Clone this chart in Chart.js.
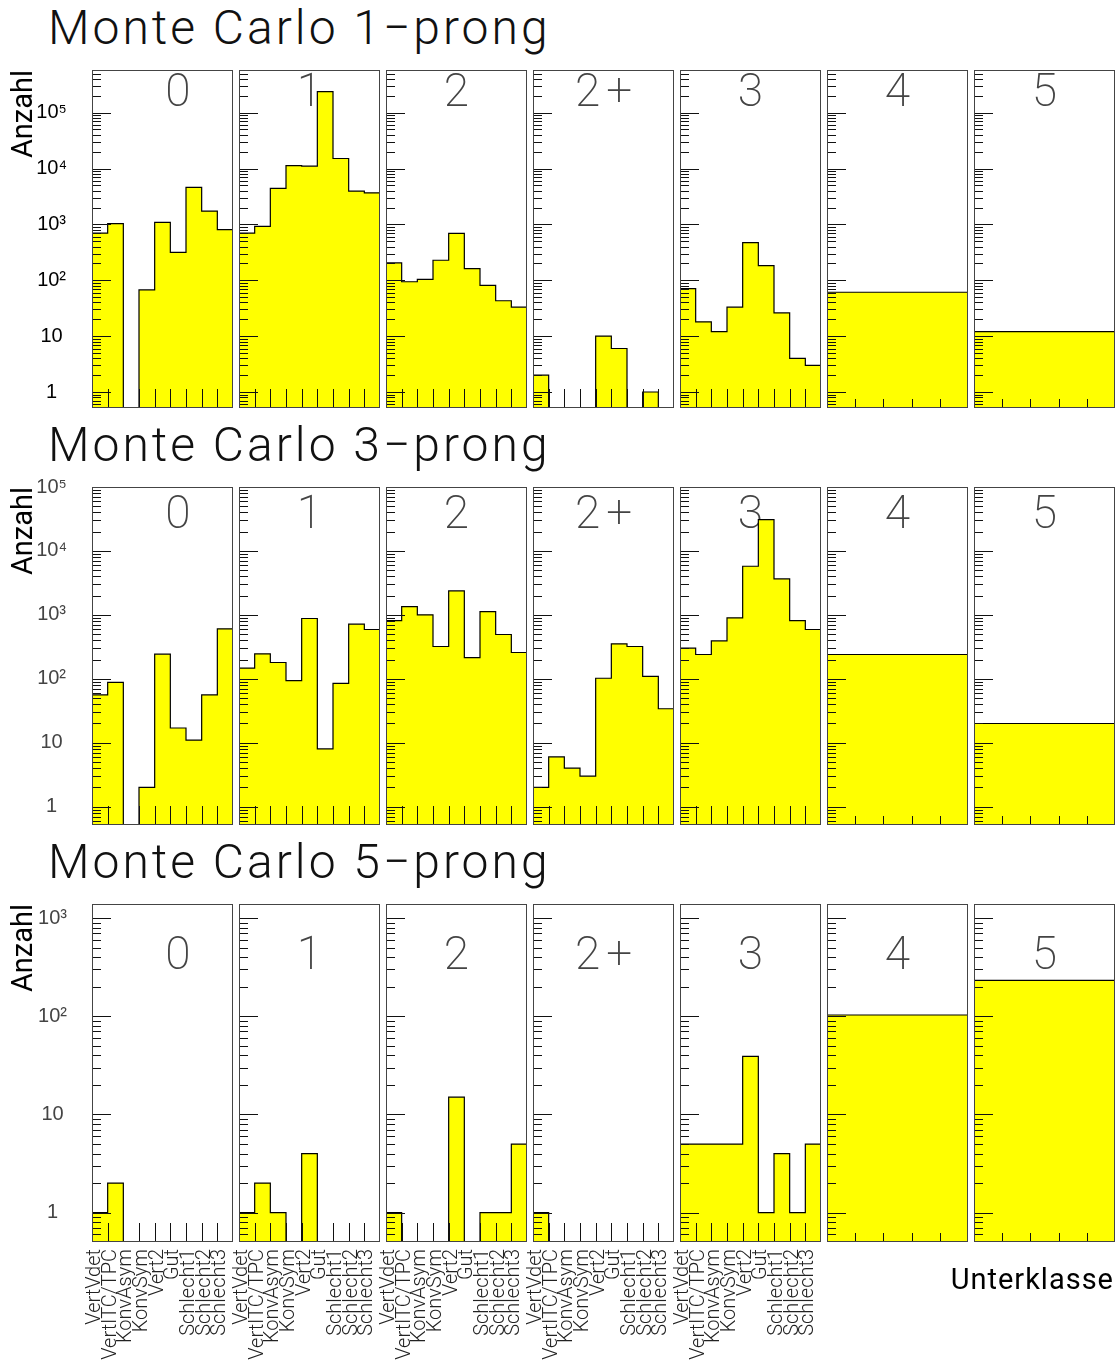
<!DOCTYPE html>
<html>
<head>
<meta charset="utf-8">
<script src="https://cdn.jsdelivr.net/npm/chart.js@4.4.1/dist/chart.umd.min.js"></script>
<style>
  body { margin: 0; background: #fff; width: 1118px; height: 1366px; position: relative; overflow: hidden; }
  canvas { position: absolute; }
  .title { position: absolute; left: 48px; font: 300 48px Roboto, sans-serif; letter-spacing: 3px; line-height: 48px; color: #111; white-space: nowrap; }
  .xtitle { position: absolute; right: 4px; top: 1264px; font: 29px Roboto, sans-serif; letter-spacing: 1px; line-height: 30px; color: #000; }
</style>
</head>
<body>
<script>
// Unterklassen (bins) of the classes 0..3; classes 4 and 5 are single bins
const categories = ['VertVdet', 'VertITC/TPC', 'KonvAsym', 'KonvSym', 'Vert2', 'Gut', 'Schlecht1', 'Schlecht2', 'Schlecht3'];
const classes = ['0', '1', '2', '2+', '3', '4', '5'];
const prongs = ['1', '3', '5'];

// Monte Carlo counts per class, 1-prong sample
const mc1prong = [
  [700, 1030, 0, 67, 1090, 316, 4590, 1730, 804],
  [700, 921, 4400, 11300, 11000, 237000, 15100, 3940, 3680],
  [204, 94, 104, 228, 691, 162, 81, 43, 33],
  [2, 0, 0, 0, 10, 6, 0, 1, 0],
  [71, 18, 12, 33, 471, 183, 26, 4, 3],
  [61],
  [12]
];

// 3-prong sample
const mc3prong = [
  [56, 88, 0, 2, 243, 17, 11, 56, 604],
  [147, 246, 180, 94, 877, 8, 85, 715, 590],
  [815, 1350, 1000, 320, 2370, 215, 1127, 493, 258],
  [2, 6, 4, 3, 102, 352, 320, 109, 34],
  [301, 240, 392, 898, 5760, 30900, 3650, 815, 590],
  [240],
  [20]
];

// 5-prong sample
const mc5prong = [
  [1, 2, 0, 0, 0, 0, 0, 0, 0],
  [1, 2, 1, 0, 4, 0, 0, 0, 0],
  [1, 0, 0, 0, 15, 0, 1, 1, 5],
  [1, 0, 0, 0, 0, 0, 0, 0, 0],
  [5, 5, 5, 5, 39, 1, 4, 1, 5],
  [103],
  [232]
];

const samples = [mc1prong, mc3prong, mc5prong];
const yRanges = [[0.517, 5.8e5], [0.517, 1e5], [0.503, 1390]];
const tickValues = [1, 10, 100, 1000, 10000, 100000];
const tickLabels = ['1', '10', '10²', '10³', '10⁴', '10⁵'];

// page layout
const PANEL_LEFT = 92, PANEL_STEP = 147, PANEL_W = 141, PANEL_H = 338;
const ROW_TOP = [70, 487, 904];
const LABEL_DY = [24, 29, 53];
const TITLE_TOP = [4, 421, 838];
const PAGE_H = 1366;
const PAD = 14;

// frame, log ticks and class number in ROOT style
const rootFrame = {
  id: 'rootFrame',
  beforeDatasetsDraw(chart, args, opts) {
    const { ctx, chartArea: a } = chart;
    ctx.save();
    ctx.font = '200 46px Roboto, sans-serif';
    ctx.letterSpacing = '6px';
    ctx.fillStyle = '#444';
    ctx.textAlign = 'center';
    ctx.textBaseline = 'middle';
    ctx.fillText(opts.label, a.left + opts.labelDx + 3, a.top + opts.labelDy);
    ctx.restore();
  },
  afterDatasetsDraw(chart, args, opts) {
    const { ctx, chartArea: a, scales: { x, y } } = chart;
    ctx.save();
    ctx.lineWidth = 1;
    ctx.strokeStyle = '#111';
    ctx.beginPath();
    const lo = Math.floor(Math.log10(y.min)), hi = Math.ceil(Math.log10(y.max));
    for (let e = lo; e <= hi; e++) {
      for (let k = 1; k <= 9; k++) {
        const v = k * Math.pow(10, e);
        if (v < y.min || v > y.max) continue;
        const py = Math.round(y.getPixelForValue(v)) + 0.5;
        ctx.moveTo(a.left, py);
        ctx.lineTo(a.left + (k === 1 ? 19 : 9), py);
      }
    }
    const n = opts.bins;
    const edges = n > 1 ? Array.from({ length: n - 1 }, (_, i) => i + 1) : [0.2, 0.4, 0.6, 0.8];
    const tl = n > 1 ? 19 : 9;
    edges.forEach(v => {
      const px = Math.round(x.getPixelForValue(v)) + 0.5;
      ctx.moveTo(px, a.bottom);
      ctx.lineTo(px, a.bottom - tl);
    });
    ctx.stroke();
    ctx.strokeStyle = '#444';
    ctx.strokeRect(a.left + 0.5, a.top + 0.5, a.right - a.left - 1, a.bottom - a.top - 1);
    ctx.restore();
  }
};

function makePanel(r, c) {
  const counts = samples[r][c];
  const n = counts.length;
  const [yMin, yMax] = yRanges[r];
  const firstCol = c === 0;
  const labelled = r === samples.length - 1 && n > 1;
  const left = PANEL_LEFT + c * PANEL_STEP, top = ROW_TOP[r];
  const padL = firstCol ? 2 : PAD;
  const axisW = firstCol ? left - padL : 0;
  const axisH = labelled ? PAGE_H - top - PANEL_H : 0;
  const padB = labelled ? 0 : PAD;

  const canvas = document.createElement('canvas');
  canvas.width = padL + axisW + PANEL_W + PAD;
  canvas.height = PAD + PANEL_H + axisH + padB;
  canvas.style.left = (left - axisW - padL) + 'px';
  canvas.style.top = (top - PAD) + 'px';
  document.body.appendChild(canvas);

  // histogram contour: one point per bin edge, empty bins sit on the axis floor
  const points = counts.map((v, i) => ({ x: i, y: v > 0 ? v : yMin }));
  points.push({ x: n, y: points[n - 1].y });

  new Chart(canvas, {
    type: 'line',
    data: {
      datasets: [{
        data: points,
        stepped: 'before',
        fill: 'start',
        backgroundColor: '#ffff00',
        borderColor: '#000',
        borderWidth: 1.2,
        pointRadius: 0
      }]
    },
    options: {
      responsive: false,
      animation: false,
      events: [],
      layout: { padding: { left: padL, top: PAD, right: PAD, bottom: padB } },
      plugins: {
        legend: { display: false },
        tooltip: { enabled: false },
        rootFrame: { label: classes[c], labelDx: c === 0 ? 86 : PANEL_W / 2, labelDy: LABEL_DY[r], bins: n }
      },
      scales: {
        x: {
          type: 'linear',
          min: 0,
          max: n,
          display: labelled,
          afterBuildTicks: s => { s.ticks = categories.map((name, i) => ({ value: i + 0.5 })); },
          afterFit: s => { s.height = axisH; s.paddingLeft = 0; s.paddingRight = 0; },
          grid: { display: false, drawTicks: false },
          border: { display: false },
          ticks: {
            autoSkip: false,
            minRotation: 90,
            maxRotation: 90,
            padding: 7,
            labelOffset: -5,
            color: '#222',
            font: { family: 'Roboto', size: 20, weight: 300 },
            callback: (v, i) => categories[i]
          }
        },
        y: {
          type: 'logarithmic',
          min: yMin,
          max: yMax,
          display: firstCol,
          afterBuildTicks: s => { s.ticks = tickValues.filter(v => v <= s.max).map(v => ({ value: v })); },
          afterFit: s => { s.width = axisW; s.paddingTop = 0; s.paddingBottom = 0; },
          grid: { display: false, drawTicks: false },
          border: { display: false },
          ticks: {
            autoSkip: false,
            crossAlign: 'center',
            padding: 25,
            color: r === 0 ? '#000' : '#444',
            font: { family: "'Liberation Sans', 'DejaVu Sans', sans-serif", size: 20, weight: r === 0 ? 'normal' : 300 },
            callback: v => tickLabels[tickValues.indexOf(v)]
          },
          title: {
            display: true,
            text: 'Anzahl',
            align: 'end',
            padding: { top: 5, bottom: 0 },
            color: '#000',
            font: { family: 'Roboto', size: 29 }
          }
        }
      }
    },
    plugins: [rootFrame]
  });
}

prongs.forEach((p, r) => {
  const t = document.createElement('div');
  t.className = 'title';
  t.textContent = 'Monte Carlo ' + p + '−prong';
  t.style.top = TITLE_TOP[r] + 'px';
  document.body.appendChild(t);
  classes.forEach((cls, c) => makePanel(r, c));
});

const xt = document.createElement('div');
xt.className = 'xtitle';
xt.textContent = 'Unterklasse';
document.body.appendChild(xt);
</script>
</body>
</html>
